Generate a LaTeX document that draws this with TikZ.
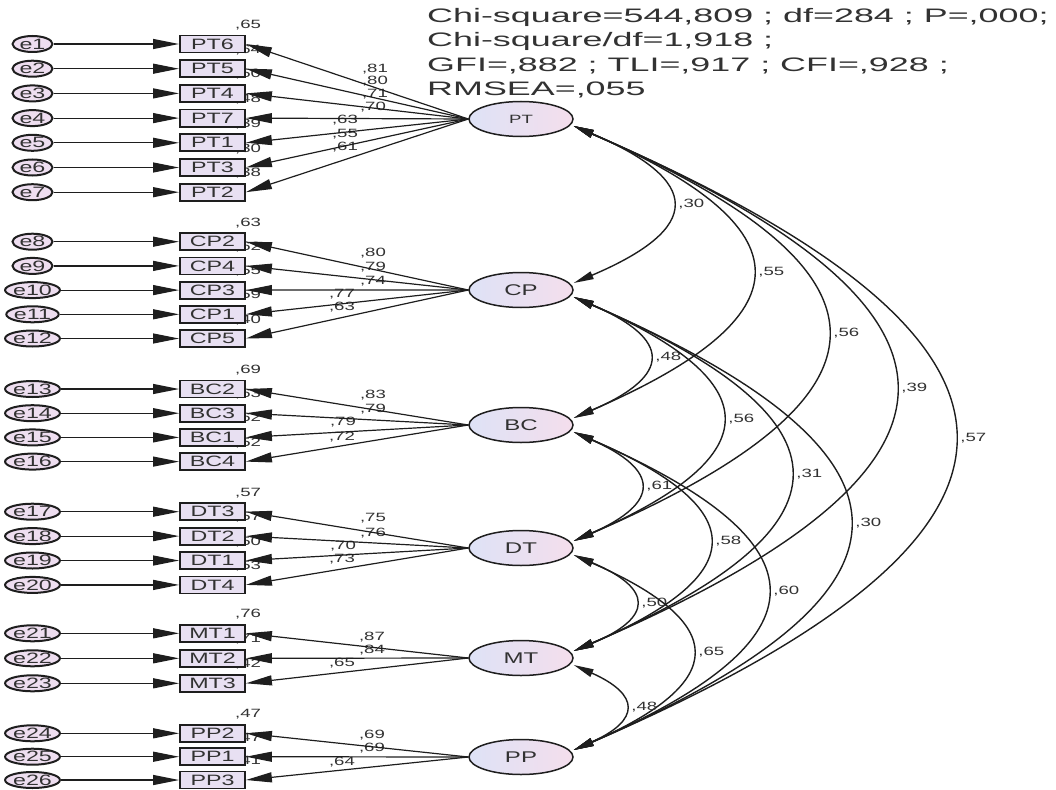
\documentclass[tikz,border=0pt]{standalone}
\usepackage{fontspec}
\setmainfont{Liberation Sans}
\newfontfamily\amosfont{Liberation Sans}[FakeStretch=1.55]
\newfontfamily\fitfont{Liberation Sans}[FakeStretch=1.84]
\usepackage{xcolor}
\usetikzlibrary{arrows.meta}
\usetikzlibrary{shapes.geometric}

\definecolor{boxfill}{RGB}{232,224,242}
\definecolor{errfill}{RGB}{238,222,240}
\definecolor{latleft}{RGB}{222,226,246}
\definecolor{latright}{RGB}{244,222,236}
\definecolor{edge}{RGB}{30,30,30}
\definecolor{txt}{RGB}{50,50,50}

% latent rows
\def\yPT{119}
\def\yCP{290}
\def\yBC{425}
\def\yDT{548}
\def\yMT{658}
\def\yPP{757}

% indicator / y / latent / R2 / loading / loading label position
\def\items{%
1/PT6/44/PT/{,65}/{,81}/375/69,%
2/PT5/68.7/PT/{,64}/{,80}/375/81,%
3/PT4/93.4/PT/{,50}/{,71}/375/94,%
4/PT7/118.1/PT/{,48}/{,70}/373/107,%
5/PT1/142.8/PT/{,39}/{,63}/345/120,%
6/PT3/167.5/PT/{,30}/{,55}/345/134,%
7/PT2/192.2/PT/{,38}/{,61}/345/147,%
8/CP2/241.7/CP/{,63}/{,80}/373/253,%
9/CP4/265.9/CP/{,62}/{,79}/373/267,%
10/CP3/290.1/CP/{,55}/{,74}/373/281,%
11/CP1/314.3/CP/{,59}/{,77}/342/294,%
12/CP5/338.5/CP/{,40}/{,63}/342/307,%
13/BC2/389/BC/{,69}/{,83}/373/395,%
14/BC3/413.2/BC/{,63}/{,79}/373/409,%
15/BC1/437.4/BC/{,62}/{,79}/343/422,%
16/BC4/461.6/BC/{,52}/{,72}/342/437,%
17/DT3/511.7/DT/{,57}/{,75}/373/518,%
18/DT2/536.1/DT/{,57}/{,76}/373/533,%
19/DT1/560.5/DT/{,50}/{,70}/343/546,%
20/DT4/584.9/DT/{,53}/{,73}/342/559,%
21/MT1/633.3/MT/{,76}/{,87}/372/637,%
22/MT2/658.3/MT/{,71}/{,84}/372/650,%
23/MT3/683.3/MT/{,42}/{,65}/342/663,%
24/PP2/733.3/PP/{,47}/{,69}/372/735,%
25/PP1/756.7/PP/{,47}/{,69}/372/748,%
26/PP3/780/PP/{,41}/{,64}/342/762}

\begin{document}
\begin{tikzpicture}[x=1pt, y=1pt,
  obs/.style={draw=edge, line width=1.8, fill=boxfill, minimum width=65, minimum height=17, inner sep=0, text=txt, font=\amosfont\fontsize{15}{15}\selectfont},
  errnode/.style={ellipse, draw=edge, line width=2, fill=errfill, minimum width=40, minimum height=16, inner sep=0, text=txt, font=\amosfont\fontsize{15}{15}\selectfont},
  latent/.style={ellipse, draw=edge, line width=1.5, left color=latleft, right color=latright, minimum width=104, minimum height=35, inner sep=0, text=txt, font=\amosfont\fontsize{15.5}{15.5}\selectfont},
  num/.style={inner sep=0, text=txt, font=\amosfont\fontsize{12}{12}\selectfont},
  onehead/.style={-{Triangle[length=26pt,width=10pt]}, line width=1.2, draw=edge},
  twohead/.style={{Triangle[length=20pt,width=8pt]}-{Triangle[length=20pt,width=8pt]}, line width=1.4, draw=edge},
]
\useasboundingbox (0,0) rectangle (1056,-789);

% squared multiple correlations and loadings
\foreach \i/\bx/\yy/\lat/\rs/\ld/\lx/\ly in \items {
  \node[num, anchor=base west] (r\i) at (235,-\yy+15.5) {\rs};
  \node[num] (l\i) at (\lx,-\ly) {\ld};
}

\node[latent, font=\amosfont\fontsize{12}{12}\selectfont] (PT) at (521,-\yPT) {PT};
\node[latent] (CP) at (521,-\yCP) {CP};
\node[latent] (BC) at (521,-\yBC) {BC};
\node[latent] (DT) at (521,-\yDT) {DT};
\node[latent] (MT) at (521,-\yMT) {MT};
\node[latent] (PP) at (521,-\yPP) {PP};

\foreach \i/\bx/\yy/\lat/\rs/\ld/\lx/\ly in \items {
  \node[obs] (\bx) at (212.5,-\yy) {\bx};
  \node[errnode] (e\i) at (32.5,-\yy) {e\i};
  \draw[onehead] (e\i) -- (\bx);
  \draw[onehead] (\lat.west) -- (\bx.east);
}

% covariances: source / target / value / right-most x
\foreach \src/\dst/\lab/\bx in {PT/CP/{,30}/670, PT/BC/{,55}/750,
  PT/DT/{,56}/825, PT/MT/{,39}/893, PT/PP/{,57}/952,
  CP/BC/{,48}/647, CP/DT/{,56}/720, CP/MT/{,31}/788, CP/PP/{,30}/847,
  BC/DT/{,61}/638, BC/MT/{,58}/707, BC/PP/{,60}/765,
  DT/MT/{,50}/633, DT/PP/{,65}/690,
  MT/PP/{,48}/623} {
  \pgfmathsetmacro\dx{(\bx-573)/0.75}
  \pgfmathsetmacro\kk{0.35*(\csname y\dst\endcsname-\csname y\src\endcsname-14)}
  \draw[twohead] ([yshift=-7]\src.east) .. controls +(\dx,-\kk) and +(\dx,\kk) .. ([yshift=7]\dst.east)
    node[num, pos=.5, anchor=west, xshift=7] (c\src\dst) {\lab};
}

\node[anchor=north west, inner sep=0, align=left, text=txt, font=\fitfont\fontsize{19.5}{24.5}\selectfont] (fit) at (427,-8)
  {Chi-square=544,809 ; df=284 ; P=,000;\\
   Chi-square/df=1,918 ;\\
   GFI=,882 ; TLI=,917 ; CFI=,928 ;\\
   RMSEA=,055};

\end{tikzpicture}
\end{document}
